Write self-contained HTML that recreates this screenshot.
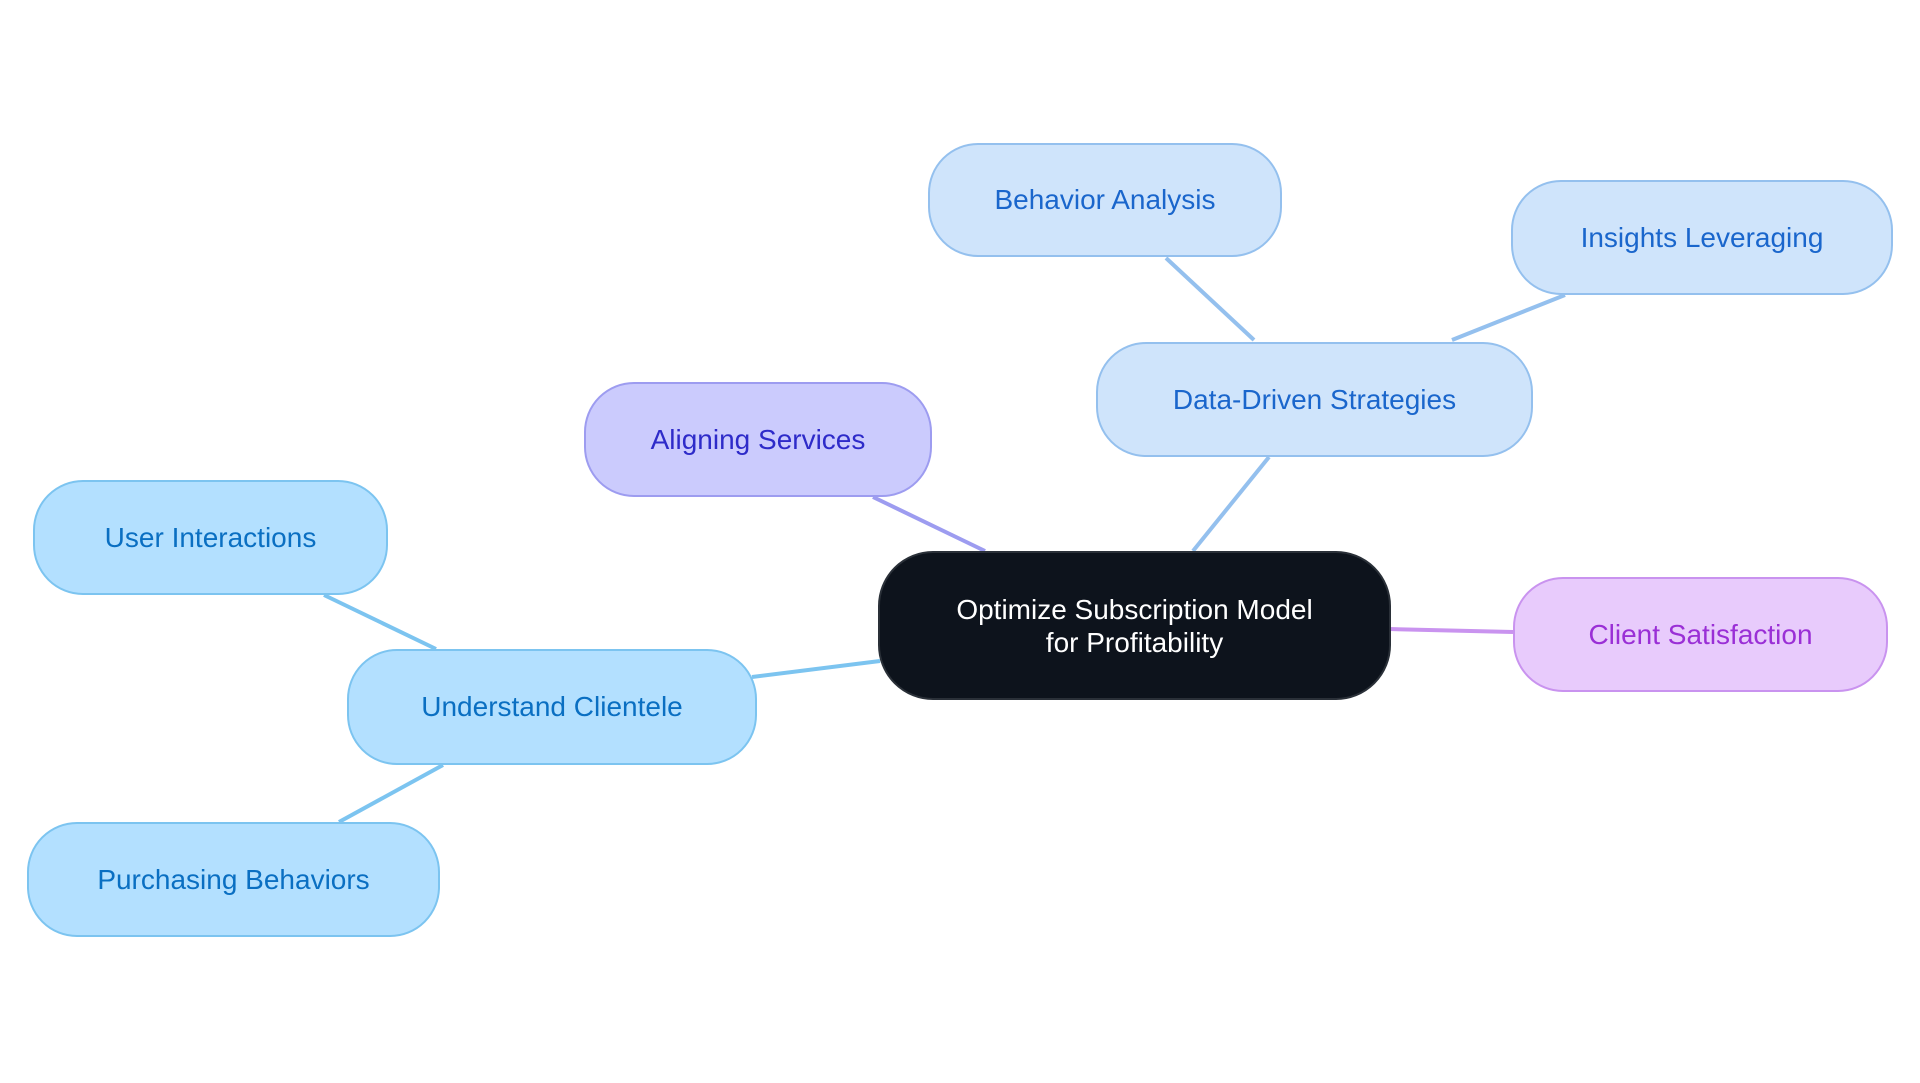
<!DOCTYPE html>
<html><head><meta charset="utf-8"><style>
body{margin:0;width:1920px;height:1083px;background:#fff;position:relative;overflow:hidden;font-family:"Liberation Sans",sans-serif}
.n{position:absolute;box-sizing:border-box;display:flex;align-items:center;justify-content:center;text-align:center;font-size:28px;border:2px solid;border-radius:50px}
.b{background:#b3e0ff;border-color:#7cc4f0;color:#0a6fc2}
.d{background:#cfe4fb;border-color:#94c0ee;color:#1a66cc}
svg{position:absolute;left:0;top:0}
</style></head><body>
<svg width="1920" height="1083" stroke-width="4" fill="none">
<line x1="1166" y1="258" x2="1254" y2="340" stroke="#94c0ee"/>
<line x1="1565" y1="295" x2="1452" y2="340" stroke="#94c0ee"/>
<line x1="1269" y1="457" x2="1193" y2="551" stroke="#94c0ee"/>
<line x1="873" y1="497" x2="985" y2="551" stroke="#9d9cf0"/>
<line x1="324" y1="595" x2="436" y2="649" stroke="#7cc4f0"/>
<line x1="443" y1="765" x2="339" y2="822" stroke="#7cc4f0"/>
<line x1="752" y1="677" x2="880" y2="661" stroke="#7cc4f0"/>
<line x1="1389" y1="629" x2="1513" y2="632" stroke="#c993ef"/>
</svg>
<div class="n" style="left:878px;top:551px;width:513px;height:149px;background:#0d131c;border-color:#2a3038;color:#fff;border-radius:55px;line-height:33px">Optimize Subscription Model<br>for Profitability</div>
<div class="n d" style="left:928px;top:143px;width:354px;height:114px">Behavior Analysis</div>
<div class="n d" style="left:1511px;top:180px;width:382px;height:115px">Insights Leveraging</div>
<div class="n d" style="left:1096px;top:342px;width:437px;height:115px">Data-Driven Strategies</div>
<div class="n" style="left:584px;top:382px;width:348px;height:115px;background:#cbcbfd;border-color:#9d9cf0;color:#2e2bc9">Aligning Services</div>
<div class="n b" style="left:33px;top:480px;width:355px;height:115px">User Interactions</div>
<div class="n b" style="left:347px;top:649px;width:410px;height:116px">Understand Clientele</div>
<div class="n b" style="left:27px;top:822px;width:413px;height:115px">Purchasing Behaviors</div>
<div class="n" style="left:1513px;top:577px;width:375px;height:115px;background:#e8cbfc;border-color:#c993ef;color:#9a2fd6">Client Satisfaction</div>
</body></html>
